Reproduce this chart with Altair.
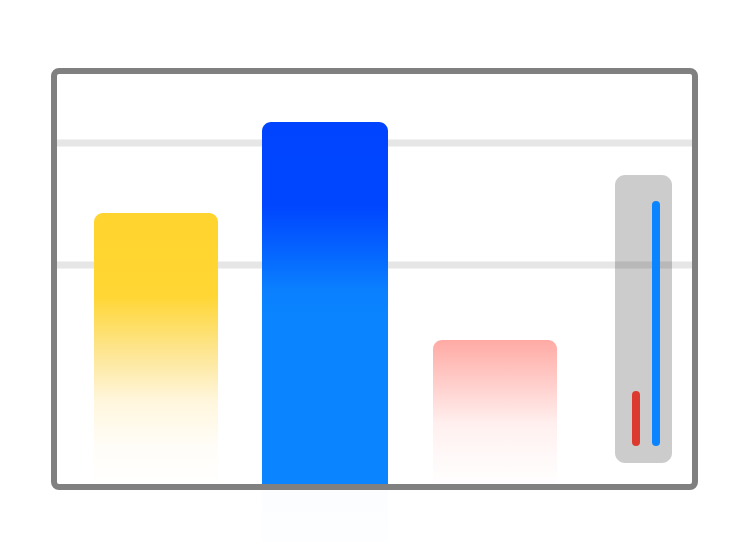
import altair as alt
import pandas as pd

# Data units: 1 unit per pixel, origin at the frame's lower-left corner
x_domain = [-46, 688]
y_domain = [-54, 480]

bar_names = ["yellow", "blue", "pink"]
bar_x0 = [40, 208, 379]
bar_x1 = [164, 334, 503]
bar_y0 = [0, -54, -5]
bar_y1 = [275, 366, 148]

grid_values = [223, 345]
grid_x0, grid_x1 = 3, 638

frame_x = [0, 641]
frame_y = [1, 417]

gauge_x = [561, 618]
gauge_y = [25, 313]

level_names = ["red", "blue"]
level_x = [582, 602]
level_y0 = [46, 46]
level_y1 = [93, 283]
level_colors = ["#dc3a2e", "#0a84ff"]

X = alt.Scale(domain=x_domain)
Y = alt.Scale(domain=y_domain)

def grad(stops):
    return alt.LinearGradient(
        gradient="linear", x1=0, y1=0, x2=0, y2=1,
        stops=[alt.GradientStop(offset=o, color=c) for o, c in stops],
    )

gradients = [
    grad([(0, "#ffd42e"), (0.30, "#ffd633"), (0.50, "#fde58f"), (0.68, "#fff6dc"), (0.85, "#fffdf8"), (1, "#ffffff")]),
    grad([(0, "#0044ff"), (0.20, "#0046ff"), (0.30, "#0562ff"), (0.40, "#0a80ff"), (0.46, "#0a84ff"),
          (0.868, "#0a84ff"), (0.872, "#fbfdff"), (1, "#fdfeff")]),
    grad([(0, "#ffaaa4"), (0.3, "#ffd0cd"), (0.55, "#fff0ef"), (0.8, "#fffafa"), (1, "#ffffff")]),
]

grid_df = pd.DataFrame({"y": grid_values, "x": grid_x0, "x2": grid_x1})
grid = alt.Chart(grid_df).mark_rule(color="#e6e6e6", strokeWidth=7).encode(
    x=alt.X("x:Q", scale=X, axis=None),
    x2="x2:Q",
    y=alt.Y("y:Q", scale=Y, axis=None),
)

bar_layers = []
for i, name in enumerate(bar_names):
    df = pd.DataFrame({"name": [name], "x": [bar_x0[i]], "x2": [bar_x1[i]],
                       "y": [bar_y0[i]], "y2": [bar_y1[i]]})
    bar_layers.append(
        alt.Chart(df).mark_rect(
            color=gradients[i], cornerRadiusTopLeft=9, cornerRadiusTopRight=9,
        ).encode(
            x=alt.X("x:Q", scale=X, axis=None), x2="x2:Q",
            y=alt.Y("y:Q", scale=Y, axis=None), y2="y2:Q",
        )
    )

gauge_df = pd.DataFrame({"x": [gauge_x[0]], "x2": [gauge_x[1]], "y": [gauge_y[0]], "y2": [gauge_y[1]]})
gauge = alt.Chart(gauge_df).mark_rect(color="#000000", opacity=0.2, cornerRadius=10).encode(
    x=alt.X("x:Q", scale=X, axis=None), x2="x2:Q",
    y=alt.Y("y:Q", scale=Y, axis=None), y2="y2:Q",
)

level_df = pd.DataFrame({"name": level_names, "x": level_x, "y": level_y0, "y2": level_y1, "c": level_colors})
levels = alt.Chart(level_df).mark_rule(strokeWidth=8, strokeCap="round").encode(
    x=alt.X("x:Q", scale=X, axis=None),
    y=alt.Y("y:Q", scale=Y, axis=None), y2="y2:Q",
    color=alt.Color("c:N", scale=None, legend=None),
)

frame_df = pd.DataFrame({"x": [frame_x[0]], "x2": [frame_x[1]], "y": [frame_y[0]], "y2": [frame_y[1]]})
frame = alt.Chart(frame_df).mark_rect(
    fillOpacity=0, stroke="#808080", strokeWidth=6, cornerRadius=5,
).encode(
    x=alt.X("x:Q", scale=X, axis=None), x2="x2:Q",
    y=alt.Y("y:Q", scale=Y, axis=None), y2="y2:Q",
)

chart = alt.layer(grid, *bar_layers, gauge, levels, frame).properties(
    width=734, height=534,
    autosize=alt.AutoSizeParams(type="none"),
    padding=0,
    background="#ffffff",
).configure_view(stroke=None)

chart.save("out.html", embed_options={"renderer": "svg", "actions": False})
